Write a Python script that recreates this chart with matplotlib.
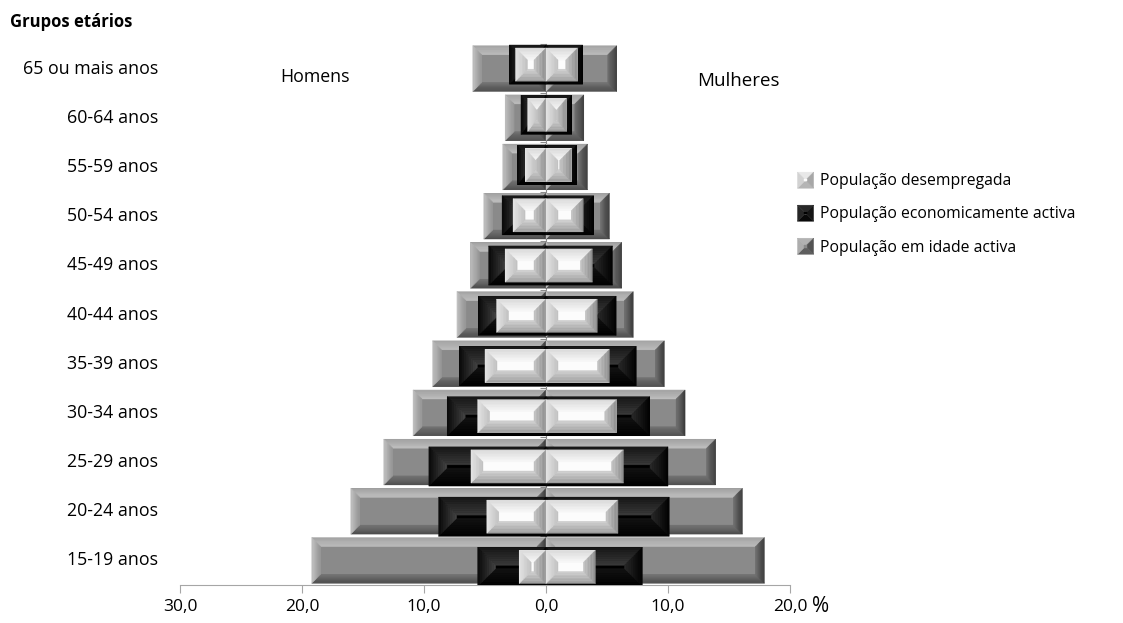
import numpy as np
import matplotlib
matplotlib.use("Agg")
import matplotlib.pyplot as plt
from matplotlib.colors import to_rgb
from matplotlib.patches import Polygon
from matplotlib.legend_handler import HandlerBase

plt.rcParams['font.family'] = ['Open Sans', 'DejaVu Sans']

# age groups, bottom to top
grupos = ['15-19 anos', '20-24 anos', '25-29 anos', '30-34 anos', '35-39 anos',
          '40-44 anos', '45-49 anos', '50-54 anos', '55-59 anos', '60-64 anos',
          '65 ou mais anos']

# % of population, men (drawn to the left) and women
idade_h = [19.2, 16.0, 13.3, 10.9, 9.3, 7.3, 6.2, 5.1, 3.55, 3.35, 6.0]
idade_m = [17.9, 16.1, 13.9, 11.4, 9.7, 7.15, 6.2, 5.2, 3.4, 3.1, 5.8]
activa_h = [5.6, 8.8, 9.6, 8.1, 7.1, 5.55, 4.7, 3.6, 2.35, 2.05, 3.0]
activa_m = [7.9, 10.1, 10.0, 8.5, 7.4, 5.75, 5.45, 3.9, 2.5, 2.1, 3.0]
desemp_h = [2.2, 4.85, 6.15, 5.6, 5.0, 4.05, 3.35, 2.7, 1.7, 1.5, 2.5]
desemp_m = [4.05, 5.9, 6.35, 5.8, 5.2, 4.2, 3.8, 3.05, 2.1, 1.7, 2.6]

xticks = [-30, -20, -10, 0, 10, 20]
xticklabels = ['30,0', '20,0', '10,0', '0,0', '10,0', '20,0']

# bevel colours: face + (outer, inner) per side
GRAY = dict(face='#8a8a8a', top=('#a4a4a4', '#c0c0c0'), left=('#c4c4c4', '#969696'),
            right=('#383838', '#6e6e6e'), bottom=('#4a4a4a', '#727272'))
BLACK = dict(face='#000000', top=('#161616', '#3a3a3a'), left=('#080808', '#444444'),
             right=('#000000', '#2a2a2a'), bottom=('#000000', '#121212'))
WHITE = dict(face='#fcfcfc', top=('#d8d8d8', '#f8f8f8'), left=('#e4e4e4', '#c0c0c0'),
             right=('#8a8a8a', '#c4c4c4'), bottom=('#9a9a9a', '#d0d0d0'))


def mix(c1, c2, t):
    a, b = np.array(to_rgb(c1)), np.array(to_rgb(c2))
    return tuple(a + (b - a) * t)


def bevel(ax, bar, depth, st, n=8):
    x0, x1 = sorted((bar.get_x(), bar.get_x() + bar.get_width()))
    y0, y1 = bar.get_y(), bar.get_y() + bar.get_height()
    sx = ax.bbox.width / np.ptp(ax.get_xlim())
    sy = ax.bbox.height / np.ptp(ax.get_ylim())
    dx = min(depth / sx, (x1 - x0) / 2)
    dy = min(depth / sy, (y1 - y0) / 2)
    z = bar.get_zorder() + 0.1
    for k in range(n):
        a, b = k / n, (k + 1) / n
        quads = {
            'top': [(x0 + a*dx, y1 - a*dy), (x1 - a*dx, y1 - a*dy),
                    (x1 - b*dx, y1 - b*dy), (x0 + b*dx, y1 - b*dy)],
            'bottom': [(x0 + a*dx, y0 + a*dy), (x1 - a*dx, y0 + a*dy),
                       (x1 - b*dx, y0 + b*dy), (x0 + b*dx, y0 + b*dy)],
            'left': [(x0 + a*dx, y0 + a*dy), (x0 + a*dx, y1 - a*dy),
                     (x0 + b*dx, y1 - b*dy), (x0 + b*dx, y0 + b*dy)],
            'right': [(x1 - a*dx, y0 + a*dy), (x1 - a*dx, y1 - a*dy),
                      (x1 - b*dx, y1 - b*dy), (x1 - b*dx, y0 + b*dy)],
        }
        for side, quad in quads.items():
            c = mix(st[side][0], st[side][1], (k + 0.5) / n)
            ax.add_patch(Polygon(quad, closed=True, fc=c, ec=c, lw=0.3, zorder=z))


class BevelSquare(HandlerBase):
    def __init__(self, st):
        super().__init__()
        self.st = st

    def create_artists(self, legend, orig_handle, xdescent, ydescent,
                       width, height, fontsize, trans):
        s = height
        x0, y0 = -xdescent + (width - s) / 2, -ydescent
        x1, y1 = x0 + s, y0 + s
        cx, cy, r = x0 + s / 2, y0 + s / 2, s * 0.08
        st = self.st
        parts = [
            ([(x0, y1), (x1, y1), (cx + r, cy + r), (cx - r, cy + r)], mix(*st['top'], 0.5)),
            ([(x0, y0), (x1, y0), (cx + r, cy - r), (cx - r, cy - r)], mix(*st['bottom'], 0.5)),
            ([(x0, y0), (x0, y1), (cx - r, cy + r), (cx - r, cy - r)], mix(*st['left'], 0.5)),
            ([(x1, y0), (x1, y1), (cx + r, cy + r), (cx + r, cy - r)], mix(*st['right'], 0.5)),
            ([(cx - r, cy - r), (cx + r, cy - r), (cx + r, cy + r), (cx - r, cy + r)], st['face']),
        ]
        return [Polygon(pts, closed=True, fc=c, ec=c, lw=0.3, transform=trans)
                for pts, c in parts]


fig = plt.figure(figsize=(11.23, 6.23), dpi=100)
ax = fig.add_axes([180 / 1123, 38 / 623, 610 / 1123, 541 / 623])
ax.set_xlim(-30, 20)
ax.set_ylim(-0.5, 10.5)

# black/white series sit on a secondary axis with its own scale
ax2 = ax.twinx()
ax2.set_ylim(-0.36, 10.41)
ax2.axis('off')

y = np.arange(len(grupos))

g_h = ax.barh(y, -np.array(idade_h), height=0.93, color=GRAY['face'], zorder=2)
g_m = ax.barh(y, idade_m, height=0.93, color=GRAY['face'], zorder=2,
              label='População em idade activa')
b_h = ax2.barh(y, -np.array(activa_h), height=0.78, color=BLACK['face'], zorder=3)
b_m = ax2.barh(y, activa_m, height=0.78, color=BLACK['face'], zorder=3,
               label='População economicamente activa')
w_h = ax2.barh(y, -np.array(desemp_h), height=0.66, color=WHITE['face'], zorder=4)
w_m = ax2.barh(y, desemp_m, height=0.66, color=WHITE['face'], zorder=4,
               label='População desempregada')

for cont, axx, st, d in [(g_h, ax, GRAY, 9), (g_m, ax, GRAY, 9),
                         (b_h, ax2, BLACK, 18), (b_m, ax2, BLACK, 18),
                         (w_h, ax2, WHITE, 12), (w_m, ax2, WHITE, 12)]:
    for bar in cont:
        bevel(axx, bar, d, st)

# axes: bottom scale and the vertical axis through zero
for s in ['top', 'right']:
    ax.spines[s].set_visible(False)
ax.spines['left'].set_position(('data', 0))
ax.spines['left'].set_color('#8c8c8c')
ax.spines['left'].set_zorder(1)
ax.spines['bottom'].set_color('#a6a6a6')
ax.set_yticks(np.arange(-0.5, 10.6, 1))
ax.set_yticklabels([])
ax.tick_params(axis='y', direction='out', length=4, color='#8c8c8c')
ax.set_xticks(xticks)
ax.set_xticklabels(xticklabels, fontsize=12.5)
ax.tick_params(axis='x', direction='out', length=6, color='#a6a6a6', pad=4)

for i, g in enumerate(grupos):
    ax.text(-0.036, i, g, transform=ax.get_yaxis_transform(), ha='right',
            va='center', fontsize=12.8)

fig.text(10 / 1123, 1 - 22 / 623, 'Grupos etários', fontsize=12, fontweight='bold',
         va='center')
fig.text(280 / 1123, 1 - 77 / 623, 'Homens', fontsize=12.8, va='center')
fig.text(697 / 1123, 1 - 81 / 623, 'Mulheres', fontsize=13.5, va='center')
fig.text(812 / 1123, 1 - 607 / 623, '%', fontsize=15, va='center')

handles = [w_m, b_m, g_m]
fig.legend(handles, [h.get_label() for h in handles],
           handler_map={w_m: BevelSquare(WHITE), b_m: BevelSquare(BLACK),
                        g_m: BevelSquare(GRAY)},
           loc='upper left', bbox_to_anchor=(782 / 1123, 1 - 158 / 623),
           frameon=False, fontsize=11.3, handlelength=1.2, handleheight=1.2,
           handletextpad=0.35, labelspacing=1.0)

fig.savefig('out.png', dpi=100)
